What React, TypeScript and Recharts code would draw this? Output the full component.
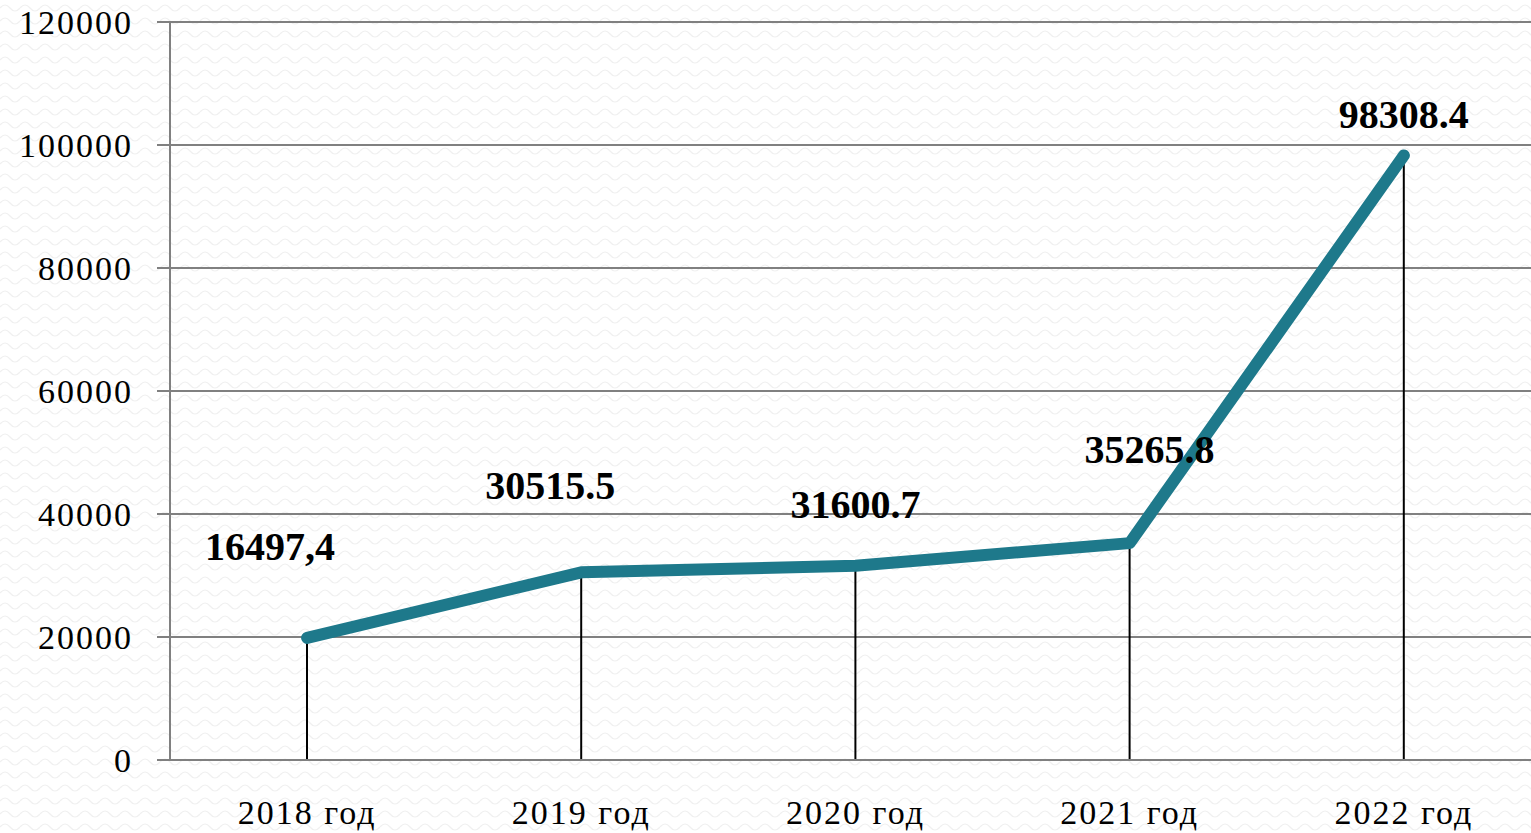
import React from 'react';
import { ComposedChart, Line, Bar, XAxis, YAxis, CartesianGrid, LabelList } from 'recharts';

const categories = ['2018 год', '2019 год', '2020 год', '2021 год', '2022 год'];
const values = [19850, 30515.5, 31600.7, 35265.8, 98308.4];
const labels = ['16497,4', '30515.5', '31600.7', '35265.8', '98308.4'];
const yTicks = [0, 20000, 40000, 60000, 80000, 100000, 120000];

const labelOffsets = [
  { dx: -37, dy: -78 },
  { dx: -31, dy: -73 },
  { dx: 0, dy: -48 },
  { dx: 20, dy: -80 },
  { dx: 0, dy: -27 },
];

const data = categories.map((c, i) => ({ name: c, value: values[i], label: labels[i] }));

const renderLabel = (props: any) => {
  const { x, y, width, index } = props;
  const off = labelOffsets[index] || { dx: 0, dy: -20 };
  const cx = x + (width || 0) / 2;
  return (
    <text
      x={cx + off.dx}
      y={y + off.dy}
      textAnchor="middle"
      fontFamily="'Liberation Serif', 'Times New Roman', serif"
      fontWeight="bold"
      fontSize={40}
      fill="#000"
    >
      {labels[index]}
    </text>
  );
};

const tickFont = {
  fontFamily: "'Liberation Serif', 'Times New Roman', serif",
  fontSize: 34,
  fill: '#000',
  letterSpacing: 2,
};

export default function App() {
  return (
    <div style={{ position: 'absolute', left: 0, top: 0, width: 1531, height: 833, overflow: 'hidden', background: '#fff' }}>
      <svg width={1531} height={833} style={{ position: 'absolute', left: 0, top: 0 }}>
        <defs>
          <pattern id="wave" width={20} height={13} patternUnits="userSpaceOnUse">
            <path d="M0 8 Q5 2 10 8 T20 8" fill="none" stroke="#f0f0f0" strokeWidth={1.2} />
          </pattern>
        </defs>
        <rect x={0} y={0} width={1531} height={833} fill="url(#wave)" />
      </svg>
      <div style={{ position: 'absolute', left: 0, top: 0 }}>
        <ComposedChart
          width={1541}
          height={833}
          data={data}
          margin={{ top: 22, right: 0, bottom: 0, left: 0 }}
        >
          <CartesianGrid vertical={false} stroke="#808080" strokeWidth={2} />
          <XAxis
            dataKey="name"
            height={73}
            axisLine={{ stroke: '#808080', strokeWidth: 2 }}
            tickLine={false}
            tickSize={0}
            tickMargin={40}
            tick={tickFont}
            interval={0}
          />
          <YAxis
            width={170}
            domain={[0, 120000]}
            ticks={yTicks}
            interval={0}
            axisLine={{ stroke: '#808080', strokeWidth: 2 }}
            tickLine={{ stroke: '#808080', strokeWidth: 2 }}
            tickSize={13}
            tickMargin={24}
            tick={tickFont}
          />
          <Line
            type="linear"
            dataKey="value"
            stroke="#1e798b"
            strokeWidth={12}
            strokeLinecap="round"
            strokeLinejoin="round"
            dot={false}
            activeDot={false}
            isAnimationActive={false}
          />
          <Bar dataKey="value" barSize={2} fill="#000" isAnimationActive={false}>
            <LabelList dataKey="label" content={renderLabel} />
          </Bar>
        </ComposedChart>
      </div>
    </div>
  );
}
